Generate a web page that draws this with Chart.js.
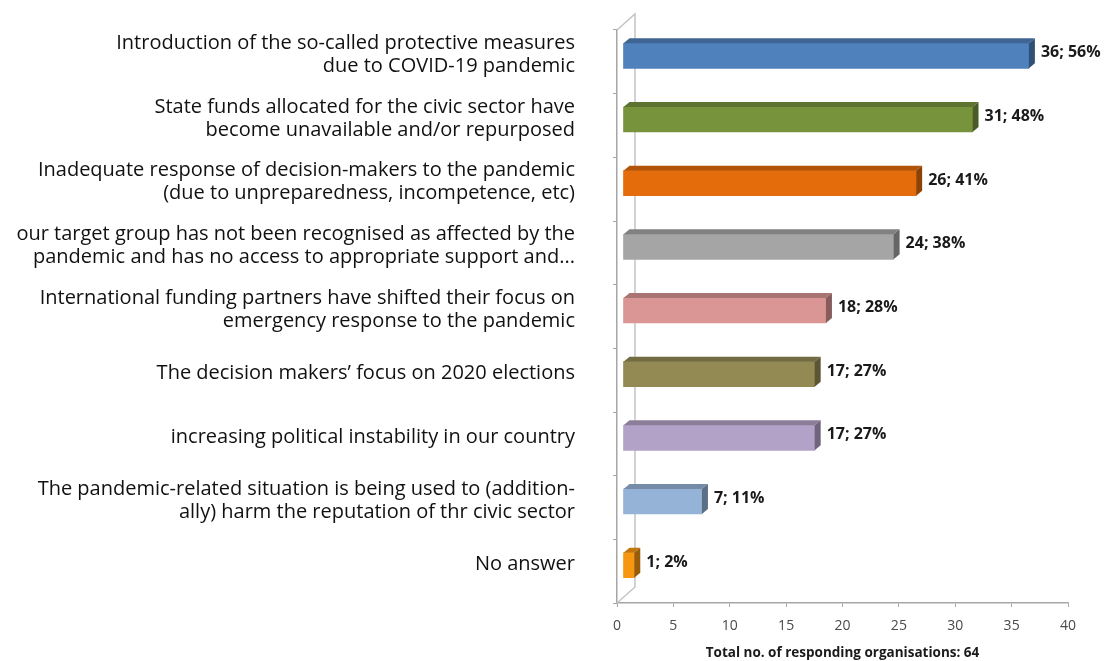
<!DOCTYPE html>
<html>
<head>
<meta charset="utf-8">
<script src="https://cdn.jsdelivr.net/npm/chart.js@4.4.1/dist/chart.umd.min.js"></script>
<style>
    html, body { margin: 0; padding: 0; background: #fff; }
    #wrap { width: 1105px; height: 661px; }
</style>
</head>
<body>
<div id="wrap"><canvas id="barChart" width="1105" height="661"></canvas></div>
<script>
// 数据
const categories = [
    ['Introduction of the so-called protective measures', 'due to COVID-19 pandemic'],
    ['State funds allocated for the civic sector have', 'become unavailable and/or repurposed'],
    ['Inadequate response of decision-makers to the pandemic', '(due to unpreparedness, incompetence, etc)'],
    ['our target group has not been recognised as affected by the', 'pandemic and has no access to appropriate support and...'],
    ['International funding partners have shifted their focus on', 'emergency response to the pandemic'],
    'The decision makers\u2019 focus on 2020 elections',
    'increasing political instability in our country',
    ['The pandemic-related situation is being used to (addition-', 'ally) harm the reputation of thr civic sector'],
    'No answer'
];
const counts = [36, 31, 26, 24, 18, 17, 17, 7, 1];
const percents = [56, 48, 41, 38, 28, 27, 27, 11, 2];
const xTicks = [0, 5, 10, 15, 20, 25, 30, 35, 40];
const totalOrgs = 64;
const barColors = ['#4F81BD', '#77933C', '#E46C0A', '#A5A5A5', '#D99694', '#938953', '#B3A2C7', '#95B3D7', '#F7960F'];

// 3D offsets
const SHIFT_X = 6, SHIFT_Y = -6;   // bar front face sits behind the front axis
const DEPTH_X = 6, DEPTH_Y = -5;   // bar depth
const WALL_X = 18, WALL_Y = -16;   // back wall offset

function shade(hex, f) {
    const n = parseInt(hex.slice(1), 16);
    const r = Math.round(((n >> 16) & 255) * f);
    const g = Math.round(((n >> 8) & 255) * f);
    const b = Math.round((n & 255) * f);
    return `rgb(${r}, ${g}, ${b})`;
}

const threeD = {
    id: 'threeD',
    beforeDatasetsDraw(chart) {
        const { ctx, chartArea: a } = chart;
        // back wall + diagonals
        ctx.save();
        ctx.strokeStyle = '#c4c4c4';
        ctx.lineWidth = 1.5;
        ctx.beginPath();
        ctx.moveTo(a.left, a.top);
        ctx.lineTo(a.left + WALL_X, a.top + WALL_Y);
        ctx.lineTo(a.left + WALL_X, a.bottom + WALL_Y);
        ctx.lineTo(a.left, a.bottom);
        ctx.stroke();
        ctx.restore();

        ctx.save();
        ctx.translate(SHIFT_X, SHIFT_Y);
    },
    afterDatasetsDraw(chart) {
        const { ctx } = chart;
        const meta = chart.getDatasetMeta(0);
        meta.data.forEach((bar, i) => {
            const c = barColors[i];
            const left = Math.min(bar.base, bar.x);
            const right = Math.max(bar.base, bar.x);
            const top = bar.y - bar.height / 2;
            const bottom = bar.y + bar.height / 2;
            // top face
            ctx.fillStyle = shade(c, 0.78);
            ctx.beginPath();
            ctx.moveTo(left, top);
            ctx.lineTo(left + DEPTH_X, top + DEPTH_Y);
            ctx.lineTo(right + DEPTH_X, top + DEPTH_Y);
            ctx.lineTo(right, top);
            ctx.closePath();
            ctx.fill();
            // side face
            ctx.fillStyle = shade(c, 0.62);
            ctx.beginPath();
            ctx.moveTo(right, top);
            ctx.lineTo(right + DEPTH_X, top + DEPTH_Y);
            ctx.lineTo(right + DEPTH_X, bottom + DEPTH_Y);
            ctx.lineTo(right, bottom);
            ctx.closePath();
            ctx.fill();
        });
        ctx.restore();

        // value labels
        ctx.save();
        ctx.font = 'bold 16px "Open Sans"';
        ctx.fillStyle = '#1a1a1a';
        ctx.textAlign = 'left';
        ctx.textBaseline = 'middle';
        meta.data.forEach((bar, i) => {
            const x = bar.x + SHIFT_X + 12;
            const y = bar.y + SHIFT_Y - 3;
            ctx.fillText(counts[i] + '; ' + percents[i] + '%', x, y);
        });
        ctx.restore();
    }
};

new Chart(document.getElementById('barChart'), {
    type: 'bar',
    data: {
        labels: categories,
        datasets: [{
            data: counts,
            backgroundColor: barColors,
            borderWidth: 0,
            barThickness: 25,
            clip: false
        }]
    },
    options: {
        indexAxis: 'y',
        responsive: false,
        animation: false,
        layout: { padding: { top: 30, right: 37, bottom: 0, left: 0 } },
        plugins: {
            legend: { display: false },
            tooltip: { enabled: false }
        },
        scales: {
            x: {
                min: 0,
                max: 40,
                afterBuildTicks(scale) {
                    scale.ticks = xTicks.map(v => ({ value: v }));
                },
                afterFit(scale) {
                    scale.height = 58;
                    scale.paddingLeft = 0;
                    scale.paddingRight = 0;
                },
                border: { display: true, color: '#a6a6a6', width: 1.5 },
                grid: { drawOnChartArea: false, drawTicks: true, tickLength: 4, color: '#a6a6a6' },
                ticks: {
                    padding: 11,
                    color: '#4a4a4a',
                    font: { family: 'Open Sans', size: 14 }
                },
                title: {
                    display: true,
                    text: 'Total no. of responding organisations: ' + totalOrgs,
                    color: '#1a1a1a',
                    font: { family: 'Open Sans', size: 13.5, weight: 'bold' },
                    padding: { top: 0, bottom: 0 }
                }
            },
            y: {
                afterFit(scale) {
                    scale.width = 617;
                    scale.paddingTop = 0;
                    scale.paddingBottom = 0;
                },
                border: { display: true, color: '#a6a6a6', width: 1.5 },
                grid: { drawOnChartArea: false, drawTicks: true, tickLength: 4, color: '#a6a6a6' },
                ticks: {
                    padding: 38,
                    labelOffset: -7,
                    color: '#111',
                    font: { family: 'Open Sans', size: 20, lineHeight: 1.15 }
                }
            }
        }
    },
    plugins: [threeD]
});
</script>
</body>
</html>
